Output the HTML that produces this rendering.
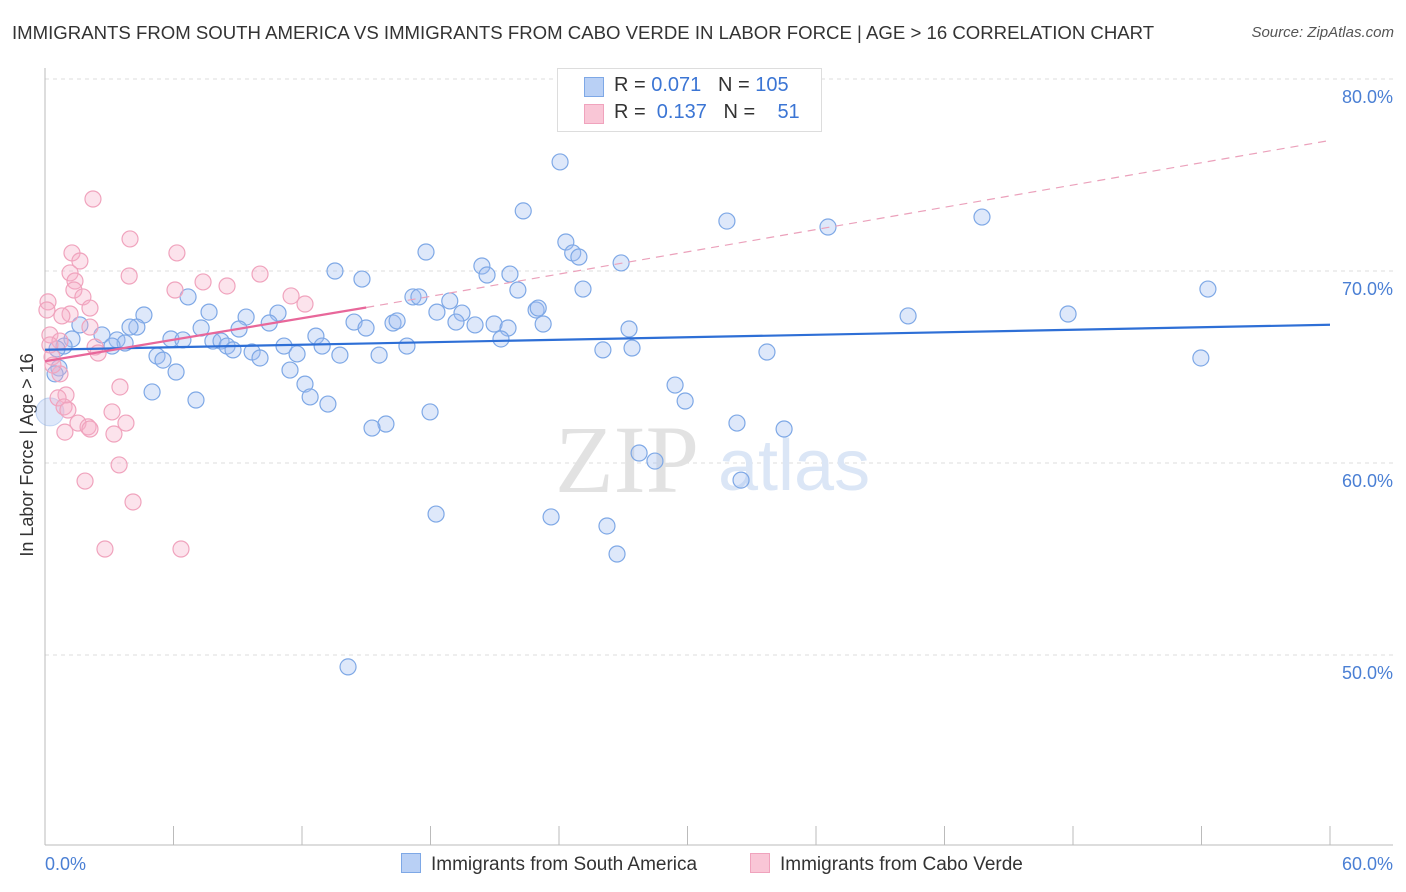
<!DOCTYPE html>
<html><head><meta charset="utf-8"><style>
body{margin:0;background:#fff;font-family:"Liberation Sans",sans-serif;}
#wrap{position:relative;width:1406px;height:892px;overflow:hidden;}
.t{position:absolute;white-space:nowrap;}
</style></head><body>
<div id="wrap">
<div class="t" style="left:12px;top:22px;font-size:18.6px;color:#333;">IMMIGRANTS FROM SOUTH AMERICA VS IMMIGRANTS FROM CABO VERDE IN LABOR FORCE | AGE &gt; 16 CORRELATION CHART</div>
<div class="t" style="right:12px;top:24px;font-size:15px;color:#555;font-style:italic;">Source: ZipAtlas.com</div>
<svg id="plot" width="1406" height="892" style="position:absolute;left:0;top:0"></svg>
</div>
<script>
const yTicks=[50,60,70,80];
const xTickLabels=["0.0%","60.0%"];
const blueX=[24.05,22.33,31.84,36.56,43.75,24.32,24.64,24.93,17.79,20.4,20.64,21.71,13.54,14.8,26.9,25.12,22.08,54.3,6.68,17.18,17.46,18.9,22.93,23.03,18.3,19.47,19.19,20.08,20.97,21.62,23.26,7.66,4.62,9.39,10.88,10.47,14.43,14.99,16.25,16.44,40.3,47.77,27.27,9.06,7.29,4.29,3.97,1.63,12.65,21.29,12.94,11.16,16.9,7.84,8.22,8.5,8.78,5.88,6.44,2.66,3.36,3.74,3.13,1.26,0.89,0.56,26.05,27.41,33.71,53.97,5.23,5.51,9.67,10.04,11.77,13.77,15.6,6.12,11.44,0.65,12.14,29.42,5.0,12.38,7.05,29.89,13.21,17.98,32.31,34.51,15.92,15.27,27.74,28.48,32.5,18.26,23.63,26.24,26.71,14.15,0.47];
const blueY=[75.68,73.13,72.6,72.29,72.81,71.51,70.94,70.73,70.99,70.26,69.79,69.84,70.0,69.58,70.42,69.06,69.01,69.06,68.65,68.65,68.65,68.44,67.97,68.07,67.86,67.81,67.34,67.19,67.24,67.03,67.24,67.86,67.71,67.6,67.81,67.29,67.34,67.03,67.29,67.4,67.66,67.76,66.98,66.98,67.03,67.08,67.08,67.19,66.61,66.46,66.09,66.09,66.09,66.35,66.35,66.09,65.89,66.46,66.41,66.67,66.41,66.25,66.09,66.46,66.09,65.94,65.89,65.99,65.78,65.47,65.57,65.36,65.78,65.47,65.68,65.62,65.62,64.74,64.84,64.95,64.11,64.06,63.7,63.44,63.28,63.23,63.07,62.66,62.08,61.77,62.03,61.82,60.52,60.1,59.11,57.34,57.19,56.72,55.26,49.38,64.64];
const pinkX=[2.24,1.26,1.63,3.97,6.16,1.17,1.4,3.93,10.04,8.5,7.38,6.07,1.35,11.49,12.14,1.77,0.14,2.1,0.09,1.17,0.79,2.1,0.23,0.7,0.23,2.34,2.48,0.33,0.7,3.5,0.98,0.61,0.89,1.07,3.13,1.54,2.01,2.1,3.78,0.93,3.22,3.46,1.87,4.11,2.8,6.35,0.37];
const pinkY=[73.75,70.94,70.52,71.67,70.94,69.9,69.48,69.74,69.84,69.22,69.43,69.01,69.01,68.7,68.28,68.65,68.39,68.07,67.97,67.76,67.66,67.08,66.67,66.35,66.15,66.04,65.73,65.52,64.64,63.96,63.54,63.39,62.92,62.76,62.66,62.08,61.88,61.77,62.08,61.61,61.51,59.9,59.06,57.97,55.52,55.52,65.1];
const blueTrend=[65.9,67.2];
const pinkTrend=[65.3,68.1,76.8];
const NS="http://www.w3.org/2000/svg";
const svg=document.getElementById('plot');
const X0=45,X1=1330,YTOP=79,YBOT=845;
function sx(v){return X0+(v/60)*(X1-X0);}
function sy(v){return 271-(v-70)*19.2;}
function el(t,a,p){const e=document.createElementNS(NS,t);for(const k in a)e.setAttribute(k,a[k]);(p||svg).appendChild(e);return e;}
yTicks.forEach(v=>{
 const l=el('line',{x1:X0,x2:1393,y1:sy(v),y2:sy(v),stroke:'#ddd','stroke-dasharray':'4,4'});
 
 
 const t=el('text',{x:1393,y:sy(v)+24,'text-anchor':'end','font-size':18,fill:'#4a7fd4','font-family':'Liberation Sans, sans-serif'});
 t.textContent=v.toFixed(1)+'%';
 
 
});
const ax=el('line',{x1:X0,x2:X0,y1:68,y2:YBOT,stroke:'#bbb'});


const bx=el('line',{x1:X0,x2:1393,y1:YBOT,y2:YBOT,stroke:'#bbb'});


for(let i=0;i<=10;i++){const x=sx(i*6);const tk=el('line',{x1:x,x2:x,y1:826,y2:YBOT,stroke:'#bbb'});
 
 }
[[0,'start'],[60,'end']].forEach((p,i)=>{const t=el('text',{x:i?1393:45,y:870,'text-anchor':p[1],'font-size':18,fill:'#4a7fd4','font-family':'Liberation Sans, sans-serif'});t.textContent=xTickLabels[i];
 
 });
const yt=el('text',{x:0,y:0,transform:'translate(33,455) rotate(-90)','text-anchor':'middle','font-size':18,fill:'#333','font-family':'Liberation Sans, sans-serif'});
yt.textContent='In Labor Force | Age > 16';


const wm=el('text',{x:555,y:492,'font-size':96,fill:'#e2e2e2','font-family':'Liberation Serif, serif'});wm.textContent='ZIP';


const wm2=el('text',{x:718,y:490,'font-size':72,fill:'#dbe6f6','font-family':'Liberation Sans, sans-serif'});wm2.textContent='atlas';


const bg=el('circle',{cx:sx(0.23),cy:sy(62.66),r:14,fill:'rgba(160,190,240,0.35)',stroke:'rgba(122,165,230,0.4)'});


blueX.forEach((v,i)=>{const c=el('circle',{cx:sx(v),cy:sy(blueY[i]),r:8,fill:'rgba(160,190,240,0.35)',stroke:'#7ea8e6','stroke-width':1.2});
 
 });
pinkX.forEach((v,i)=>{const c=el('circle',{cx:sx(v),cy:sy(pinkY[i]),r:8,fill:'rgba(245,175,200,0.35)',stroke:'#f0a3bd','stroke-width':1.2});
 
 });
const bl=el('line',{x1:sx(0),y1:sy(blueTrend[0]),x2:sx(60),y2:sy(blueTrend[1]),stroke:'#2e6fd6','stroke-width':2.2});


const pd=el('line',{x1:sx(15),y1:sy(pinkTrend[1]),x2:sx(60),y2:sy(pinkTrend[2]),stroke:'#eba1bb','stroke-width':1.2,'stroke-dasharray':'8,6'});


const pl=el('line',{x1:sx(0),y1:sy(pinkTrend[0]),x2:sx(15),y2:sy(pinkTrend[1]),stroke:'#e8679a','stroke-width':2.2});


</script>
<div class="t" style="left:557px;top:68px;width:263px;height:62px;border:1px solid #ddd;background:#fff;font-size:20px;">
 <div style="position:absolute;left:26px;top:8px;width:18px;height:18px;background:#b9d0f5;border:1px solid #7ea8e6"></div>
 <div style="position:absolute;left:56px;top:5px;color:#333">R = <span style="color:#3b75d4">0.071</span>&nbsp;&nbsp;&nbsp;N = <span style="color:#3b75d4">105</span></div>
 <div style="position:absolute;left:26px;top:35px;width:18px;height:18px;background:#f9c6d6;border:1px solid #f0a3bd"></div>
 <div style="position:absolute;left:56px;top:32px;color:#333">R = &nbsp;<span style="color:#3b75d4">0.137</span>&nbsp;&nbsp;&nbsp;N = &nbsp;&nbsp;&nbsp;<span style="color:#3b75d4">51</span></div>
</div>
<div class="t" style="left:401px;top:853px;font-size:19px;color:#333;">
 <span style="display:inline-block;width:18px;height:18px;background:#b9d0f5;border:1px solid #7ea8e6;vertical-align:-3px;margin-right:10px"></span>Immigrants from South America</div>
<div class="t" style="left:750px;top:853px;font-size:19px;color:#333;">
 <span style="display:inline-block;width:18px;height:18px;background:#f9c6d6;border:1px solid #f0a3bd;vertical-align:-3px;margin-right:10px"></span>Immigrants from Cabo Verde</div>
</body></html>
